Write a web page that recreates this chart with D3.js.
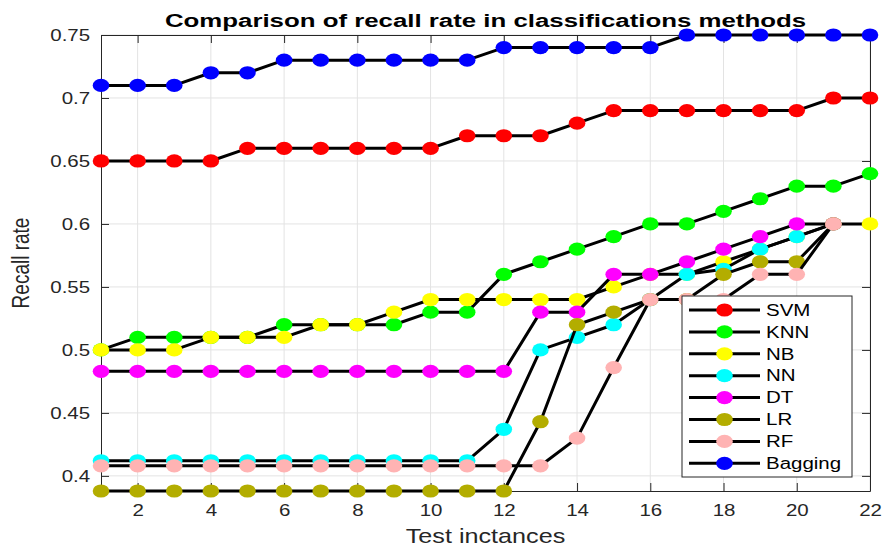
<!DOCTYPE html>
<html>
<head>
<meta charset="utf-8">
<script src="https://cdn.jsdelivr.net/npm/d3@7"></script>
<style>
  body { margin: 0; background: #fff; }
  svg { display: block; }
</style>
</head>
<body>
<div id="chart"></div>
<script>
// test instance numbers on the x axis
const instances = d3.range(1, 23);
const xTicks = [2, 4, 6, 8, 10, 12, 14, 16, 18, 20, 22];
const yTicks = [0.4, 0.45, 0.5, 0.55, 0.6, 0.65, 0.7, 0.75];

const methods = ["SVM", "KNN", "NB", "NN", "DT", "LR", "RF", "Bagging"];
const colors = ["#ff0000", "#00ff00", "#ffff00", "#00ffff", "#ff00ff", "#b3ad00", "#ffb3b3", "#0000ff"];

const svmValues = [0.65, 0.65, 0.65, 0.65, 0.66, 0.66, 0.66, 0.66, 0.66, 0.66, 0.67, 0.67, 0.67, 0.68, 0.69, 0.69, 0.69, 0.69, 0.69, 0.69, 0.70, 0.70];
const knnValues = [0.50, 0.51, 0.51, 0.51, 0.51, 0.52, 0.52, 0.52, 0.52, 0.53, 0.53, 0.56, 0.57, 0.58, 0.59, 0.60, 0.60, 0.61, 0.62, 0.63, 0.63, 0.64];
const nbValues = [0.50, 0.50, 0.50, 0.51, 0.51, 0.51, 0.52, 0.52, 0.53, 0.54, 0.54, 0.54, 0.54, 0.54, 0.55, 0.56, 0.56, 0.57, 0.58, 0.59, 0.60, 0.60];
const nnValues = [0.412, 0.412, 0.412, 0.412, 0.412, 0.412, 0.412, 0.412, 0.412, 0.412, 0.412, 0.437, 0.50, 0.51, 0.52, 0.54, 0.56, 0.564, 0.58, 0.59, 0.60, null];
const dtValues = [0.483, 0.483, 0.483, 0.483, 0.483, 0.483, 0.483, 0.483, 0.483, 0.483, 0.483, 0.483, 0.53, 0.53, 0.56, 0.56, 0.57, 0.58, 0.59, 0.60, 0.60, null];
const lrValues = [0.388, 0.388, 0.388, 0.388, 0.388, 0.388, 0.388, 0.388, 0.388, 0.388, 0.388, 0.388, 0.443, 0.52, 0.53, 0.54, 0.54, 0.56, 0.57, 0.57, 0.60, null];
const rfValues = [0.408, 0.408, 0.408, 0.408, 0.408, 0.408, 0.408, 0.408, 0.408, 0.408, 0.408, 0.408, 0.408, 0.43, 0.486, 0.54, 0.54, 0.54, 0.56, 0.56, 0.60, null];
const baggingValues = [0.71, 0.71, 0.71, 0.72, 0.72, 0.73, 0.73, 0.73, 0.73, 0.73, 0.73, 0.74, 0.74, 0.74, 0.74, 0.74, 0.75, 0.75, 0.75, 0.75, 0.75, 0.75];

const allValues = [svmValues, knnValues, nbValues, nnValues, dtValues, lrValues, rfValues, baggingValues];

const series = methods.map((name, i) => ({
    name: name,
    color: colors[i],
    points: instances
        .map((t, j) => ({ t: t, v: allValues[i][j] }))
        .filter(d => d.v !== null)
}));

const width = 884, height = 547;
const plot = { left: 101, right: 870, top: 35, bottom: 491 };
const stretch = 1.28;   // the picture is a bit wider than tall
const font = "'Liberation Sans', Arial, Helvetica, sans-serif";
const axisColor = "#262626";

const svg = d3.select("#chart").append("svg")
    .attr("width", width)
    .attr("height", height)
    .attr("viewBox", `0 0 ${width} ${height}`);

const x = d3.scaleLinear()
    .domain(d3.extent(instances))
    .range([plot.left, plot.right]);

const y = d3.scaleLinear()
    .domain([d3.min(allValues.flat().filter(v => v !== null)), d3.max(allValues.flat())])
    .range([plot.bottom, plot.top]);

// grid
const grid = svg.append("g").attr("stroke", "#e3e3e3").attr("stroke-width", 1);
grid.selectAll(".gx").data(xTicks).enter().append("line")
    .attr("x1", d => x(d)).attr("x2", d => x(d))
    .attr("y1", plot.top).attr("y2", plot.bottom);
grid.selectAll(".gy").data(yTicks).enter().append("line")
    .attr("x1", plot.left).attr("x2", plot.right)
    .attr("y1", d => y(d)).attr("y2", d => y(d));

// axes (box on, ticks inside)
const styleAxis = g => {
    g.attr("color", axisColor).attr("font-family", font).attr("font-size", 16);
    g.select(".domain").attr("stroke-width", 1);
    g.selectAll(".tick line").attr("stroke-width", 1);
    g.selectAll("text").attr("fill", axisColor);
};

svg.append("g")
    .attr("transform", `translate(0,${plot.bottom})`)
    .call(d3.axisBottom(x).tickValues(xTicks).tickSizeInner(-8).tickSizeOuter(0).tickPadding(13.6))
    .call(styleAxis)
    .selectAll("text").attr("transform", `scale(${stretch},1)`);

svg.append("g")
    .attr("transform", `translate(${plot.left},0)`)
    .call(d3.axisLeft(y).tickValues(yTicks).tickFormat(d3.format("")).tickSizeInner(-8).tickSizeOuter(0).tickPadding(8.5))
    .call(styleAxis)
    .selectAll("text").attr("transform", `scale(${stretch},1)`);

svg.append("g")
    .attr("transform", `translate(0,${plot.top})`)
    .call(d3.axisTop(x).tickValues(xTicks).tickFormat("").tickSizeInner(-8).tickSizeOuter(0))
    .call(styleAxis);

svg.append("g")
    .attr("transform", `translate(${plot.right},0)`)
    .call(d3.axisRight(y).tickValues(yTicks).tickFormat("").tickSizeInner(-8).tickSizeOuter(0))
    .call(styleAxis);

// series: line then its markers, one after another
const line = d3.line()
    .x(d => x(d.t))
    .y(d => y(d.v));

const rx = 8.3, ry = 6.6;

series.forEach(s => {
    const g = svg.append("g").attr("class", "series");
    g.append("path")
        .datum(s.points)
        .attr("fill", "none")
        .attr("stroke", "#000")
        .attr("stroke-width", 3)
        .attr("stroke-linejoin", "round")
        .attr("d", line);
    g.selectAll("ellipse")
        .data(s.points)
        .enter().append("ellipse")
        .attr("cx", d => x(d.t))
        .attr("cy", d => y(d.v))
        .attr("rx", rx)
        .attr("ry", ry)
        .attr("fill", s.color);
});

// title and axis labels
svg.append("text")
    .attr("transform", `translate(${(plot.left + plot.right) / 2},27) scale(1.36,1)`)
    .attr("text-anchor", "middle")
    .attr("font-family", font)
    .attr("font-weight", "bold")
    .attr("font-size", 19)
    .attr("fill", "#000")
    .text("Comparison of recall rate in classifications methods");

svg.append("text")
    .attr("transform", `translate(${(plot.left + plot.right) / 2},543) scale(1.26,1)`)
    .attr("text-anchor", "middle")
    .attr("font-family", font)
    .attr("font-size", 20)
    .attr("fill", axisColor)
    .text("Test inctances");

svg.append("text")
    .attr("transform", `translate(29,${(plot.top + plot.bottom) / 2}) scale(${stretch},1) rotate(-90)`)
    .attr("text-anchor", "middle")
    .attr("font-family", font)
    .attr("font-size", 19)
    .attr("fill", axisColor)
    .text("Recall rate");

// legend
const legend = svg.append("g").attr("transform", "translate(682,296)");
legend.append("rect")
    .attr("width", 170)
    .attr("height", 181)
    .attr("fill", "#fff")
    .attr("stroke", axisColor)
    .attr("stroke-width", 1);

const items = legend.selectAll(".item")
    .data(series)
    .enter().append("g")
    .attr("transform", (d, i) => `translate(0,${14 + i * 21.9})`);

items.append("line")
    .attr("x1", 7).attr("x2", 78)
    .attr("stroke", "#000").attr("stroke-width", 3);
items.append("ellipse")
    .attr("cx", 42.5).attr("rx", rx).attr("ry", ry)
    .attr("fill", d => d.color);
items.append("text")
    .attr("transform", `translate(84,0) scale(${stretch},1)`)
    .attr("dy", "0.36em")
    .attr("font-family", font)
    .attr("font-size", 16)
    .attr("fill", "#000")
    .text(d => d.name);
</script>
</body>
</html>
